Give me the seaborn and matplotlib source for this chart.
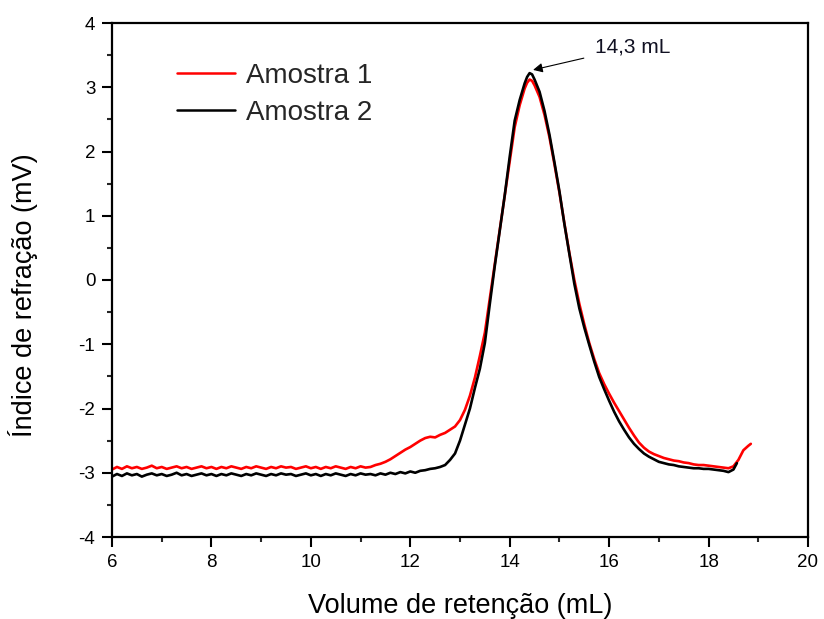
import matplotlib
matplotlib.use("Agg")
import matplotlib.pyplot as plt
from matplotlib.ticker import MultipleLocator
import seaborn as sns
import pandas as pd

# ---------------- data ----------------
vol_2 = [6.0, 6.1, 6.2, 6.3, 6.4, 6.5, 6.6, 6.7, 6.8, 6.9,
         7.0, 7.1, 7.2, 7.3, 7.4, 7.5, 7.6, 7.7, 7.8, 7.9,
         8.0, 8.1, 8.2, 8.3, 8.4, 8.5, 8.6, 8.7, 8.8, 8.9,
         9.0, 9.1, 9.2, 9.3, 9.4, 9.5, 9.6, 9.7, 9.8, 9.9,
         10.0, 10.1, 10.2, 10.3, 10.4, 10.5, 10.6, 10.7, 10.8, 10.9,
         11.0, 11.1, 11.2, 11.3, 11.4, 11.5, 11.6, 11.7, 11.8, 11.9,
         12.0, 12.1, 12.2, 12.3, 12.4, 12.5, 12.6, 12.7, 12.8, 12.9,
         13.0, 13.1, 13.2, 13.3, 13.4, 13.5, 13.6, 13.7, 13.8, 13.9,
         14.0, 14.1, 14.2, 14.3, 14.35, 14.4, 14.45, 14.5, 14.6, 14.7,
         14.8, 14.9, 15.0, 15.1, 15.2, 15.3, 15.4, 15.5, 15.6, 15.7,
         15.8, 15.9, 16.0, 16.1, 16.2, 16.3, 16.4, 16.5, 16.6, 16.7,
         16.8, 16.9, 17.0, 17.1, 17.2, 17.3, 17.4, 17.5, 17.6, 17.7,
         17.8, 17.9, 18.0, 18.1, 18.2, 18.3, 18.4, 18.5, 18.57]
ri_2 = [-3.06, -3.02, -3.05, -3.01, -3.04, -3.02, -3.06, -3.03, -3.01, -3.04,
        -3.02, -3.05, -3.03, -3.00, -3.04, -3.02, -3.05, -3.03, -3.01, -3.04,
        -3.02, -3.05, -3.02, -3.04, -3.01, -3.03, -3.05, -3.02, -3.04, -3.01,
        -3.03, -3.05, -3.02, -3.04, -3.01, -3.03, -3.02, -3.05, -3.03, -3.01,
        -3.04, -3.02, -3.05, -3.02, -3.04, -3.01, -3.03, -3.05, -3.02, -3.04,
        -3.01, -3.03, -3.02, -3.04, -3.01, -3.03, -3.00, -3.02, -2.99, -3.01,
        -2.98, -3.00, -2.97, -2.96, -2.94, -2.93, -2.91, -2.88, -2.80, -2.70,
        -2.50, -2.25, -2.00, -1.68, -1.38, -0.98, -0.37, 0.22, 0.77, 1.32,
        1.92, 2.48, 2.80, 3.06, 3.16, 3.22, 3.20, 3.12, 2.93, 2.63,
        2.26, 1.83, 1.38, 0.87, 0.40, -0.06, -0.44, -0.74, -1.01, -1.27,
        -1.51, -1.70, -1.88, -2.05, -2.20, -2.33, -2.45, -2.55, -2.63, -2.70,
        -2.75, -2.79, -2.83, -2.85, -2.87, -2.88, -2.90, -2.91, -2.92, -2.93,
        -2.93, -2.94, -2.94, -2.95, -2.96, -2.97, -2.99, -2.95, -2.85]

vol_1 = [6.0, 6.1, 6.2, 6.3, 6.4, 6.5, 6.6, 6.7, 6.8, 6.9,
         7.0, 7.1, 7.2, 7.3, 7.4, 7.5, 7.6, 7.7, 7.8, 7.9,
         8.0, 8.1, 8.2, 8.3, 8.4, 8.5, 8.6, 8.7, 8.8, 8.9,
         9.0, 9.1, 9.2, 9.3, 9.4, 9.5, 9.6, 9.7, 9.8, 9.9,
         10.0, 10.1, 10.2, 10.3, 10.4, 10.5, 10.6, 10.7, 10.8, 10.9,
         11.0, 11.1, 11.2, 11.3, 11.4, 11.5, 11.6, 11.7, 11.8, 11.9,
         12.0, 12.1, 12.2, 12.3, 12.4, 12.5, 12.6, 12.7, 12.8, 12.9,
         13.0, 13.1, 13.2, 13.3, 13.4, 13.5, 13.6, 13.7, 13.8, 13.9,
         14.0, 14.1, 14.2, 14.3, 14.35, 14.4, 14.45, 14.5, 14.6, 14.7,
         14.8, 14.9, 15.0, 15.1, 15.2, 15.3, 15.4, 15.5, 15.6, 15.7,
         15.8, 15.9, 16.0, 16.1, 16.2, 16.3, 16.4, 16.5, 16.6, 16.7,
         16.8, 16.9, 17.0, 17.1, 17.2, 17.3, 17.4, 17.5, 17.6, 17.7,
         17.8, 17.9, 18.0, 18.1, 18.2, 18.3, 18.4, 18.5, 18.6, 18.7,
         18.8, 18.85]
ri_1 = [-2.95, -2.91, -2.94, -2.90, -2.93, -2.91, -2.94, -2.92, -2.89, -2.93,
        -2.91, -2.94, -2.92, -2.90, -2.93, -2.91, -2.94, -2.92, -2.90, -2.93,
        -2.91, -2.94, -2.91, -2.93, -2.90, -2.92, -2.94, -2.91, -2.93, -2.90,
        -2.92, -2.94, -2.91, -2.93, -2.90, -2.92, -2.91, -2.94, -2.92, -2.90,
        -2.93, -2.91, -2.94, -2.91, -2.93, -2.90, -2.92, -2.94, -2.91, -2.93,
        -2.90, -2.92, -2.91, -2.88, -2.86, -2.83, -2.79, -2.74, -2.69, -2.64,
        -2.60, -2.55, -2.50, -2.46, -2.44, -2.45, -2.41, -2.38, -2.33, -2.28,
        -2.18, -2.02, -1.80, -1.52, -1.18, -0.82, -0.28, 0.25, 0.78, 1.30,
        1.85, 2.38, 2.72, 2.98, 3.07, 3.12, 3.10, 3.03, 2.85, 2.57,
        2.22, 1.80, 1.36, 0.88, 0.42, 0.00, -0.37, -0.69, -0.98, -1.23,
        -1.45, -1.62, -1.77, -1.91, -2.04, -2.17, -2.30, -2.42, -2.53, -2.61,
        -2.67, -2.71, -2.74, -2.77, -2.79, -2.81, -2.82, -2.84, -2.85, -2.87,
        -2.88, -2.88, -2.89, -2.90, -2.91, -2.92, -2.93, -2.90, -2.80, -2.65,
        -2.58, -2.55]

series_labels = ["Amostra 1", "Amostra 2"]
series_colors = ["#ff0000", "#000000"]
x_label = "Volume de retenção (mL)"
y_label = "Índice de refração (mV)"
peak_label = "14,3 mL"
peak_x, peak_y = 14.47, 3.27

# ---------------- style ----------------
sns.set_theme(style="ticks")
plt.rcParams["font.family"] = ["Liberation Sans", "DejaVu Sans"]
plt.rcParams["axes.unicode_minus"] = False

fig = plt.figure(figsize=(8.24, 6.19), dpi=100)
ax = fig.add_axes([112 / 824, 82 / 619, 696 / 824, 514 / 619])

df1 = pd.DataFrame({"x": vol_1, "y": ri_1})
df2 = pd.DataFrame({"x": vol_2, "y": ri_2})
sns.lineplot(data=df1, x="x", y="y", color=series_colors[0], lw=1.9,
             label=series_labels[0], ax=ax, estimator=None, sort=False)
sns.lineplot(data=df2, x="x", y="y", color=series_colors[1], lw=1.9,
             label=series_labels[1], ax=ax, estimator=None, sort=False)

ax.set_xlim(6, 20)
ax.set_ylim(-4, 4)
ax.xaxis.set_major_locator(MultipleLocator(2))
ax.xaxis.set_minor_locator(MultipleLocator(1))
ax.yaxis.set_major_locator(MultipleLocator(1))
ax.yaxis.set_minor_locator(MultipleLocator(0.5))
ax.tick_params(which="major", direction="out", length=7, width=1.5,
               labelsize=13.5, pad=5, colors="black", top=False, right=False)
ax.tick_params(which="minor", direction="out", length=3.5, width=1.5,
               top=False, right=False)
for s in ax.spines.values():
    s.set_linewidth(1.6)
    s.set_color("black")
    s.set_visible(True)

ax.set_xlabel(x_label, fontsize=19.5, color="black")
ax.set_ylabel(y_label, fontsize=19.5, color="black")
ax.xaxis.set_label_coords(0.5, -0.108)
ax.yaxis.set_label_coords(-0.106, 0.47)

ax.annotate(peak_label, xy=(peak_x, peak_y), xytext=(15.72, 3.63),
            fontsize=15, color="#111122", va="center", ha="left",
            arrowprops=dict(arrowstyle="-|>", color="black", lw=0.8,
                            mutation_scale=14, shrinkA=6, shrinkB=0))

leg = ax.legend(loc="upper left", bbox_to_anchor=(0.0934, 0.9225), frameon=False,
                fontsize=20, handlelength=2.07, handletextpad=0.43,
                labelspacing=0.4, borderpad=0, borderaxespad=0)
for line in leg.get_lines():
    line.set_linewidth(1.8)

fig.savefig("out.png", dpi=100)
